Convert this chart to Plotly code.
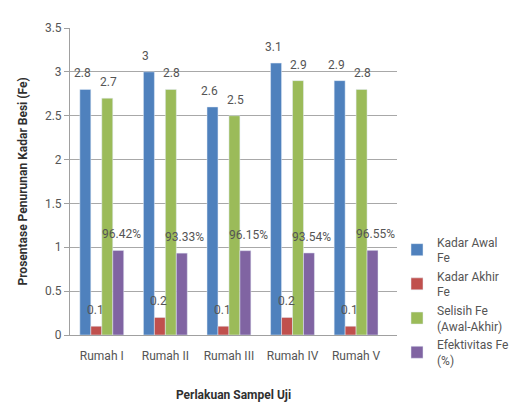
import plotly.graph_objects as go

categories = ["Rumah I", "Rumah II", "Rumah III", "Rumah IV", "Rumah V"]
kadar_awal = [2.8, 3.0, 2.6, 3.1, 2.9]
kadar_akhir = [0.1, 0.2, 0.1, 0.2, 0.1]
selisih = [2.7, 2.8, 2.5, 2.9, 2.8]
efektivitas = [0.9642, 0.9333, 0.9615, 0.9354, 0.9655]
efektivitas_labels = ["96.42%", "93.33%", "96.15%", "93.54%", "96.55%"]

series = [
    ("Kadar Awal<br>Fe", kadar_awal, "#4F81BD", [f"{v:g}" for v in kadar_awal]),
    ("Kadar Akhir<br>Fe", kadar_akhir, "#C0504D", [f"{v:g}" for v in kadar_akhir]),
    ("Selisih Fe<br>(Awal-Akhir)", selisih, "#9BBB59", [f"{v:g}" for v in selisih]),
    ("Efektivitas Fe<br>(%)", efektivitas, "#8064A2", efektivitas_labels),
]

FONT = "Roboto, sans-serif"
TXT = "#555555"

W, H = 518, 414
ML, MR, MT, MB = 62, 81, 20, 87
plot_w = W - ML - MR
bargap = 0.31
cat_px = plot_w / len(categories)
bar_px = cat_px * (1 - bargap) / len(series)

fig = go.Figure()
annotations = []
for i, (name, vals, color, labels) in enumerate(series):
    fig.add_trace(go.Bar(
        x=categories, y=vals, name=name, marker_color=color,
        legendgroup=name,
    ))
    offset = (i - (len(series) - 1) / 2) * bar_px
    for c, v, lab in zip(categories, vals, labels):
        annotations.append(dict(
            x=c, y=v, xref="x", yref="y", text=lab, showarrow=False,
            xshift=offset, yshift=16, yanchor="middle",
            font=dict(family=FONT, size=12, color=TXT),
        ))

fig.update_layout(
    width=W, height=H,
    margin=dict(l=ML, r=MR, t=MT, b=MB),
    paper_bgcolor="white", plot_bgcolor="white",
    barmode="group", bargap=bargap, bargroupgap=0,
    font=dict(family=FONT, size=12, color=TXT),
    annotations=annotations,
    showlegend=True,
    legend=dict(
        x=1.0, xanchor="left", y=0.35, yanchor="top",
        font=dict(family=FONT, size=12, color=TXT),
        tracegroupgap=22, itemwidth=30, traceorder="normal",
        bgcolor="rgba(0,0,0,0)",
    ),
    xaxis=dict(
        title=dict(text="<b>Perlakuan Sampel Uji</b>", font=dict(family=FONT, size=12, color="#303030"), standoff=28),
        showline=True, linecolor="#A0A0A0", ticks="outside", ticklen=10, tickcolor="rgba(0,0,0,0)",
        tickfont=dict(size=12, color=TXT),
    ),
    yaxis=dict(
        title=dict(text="<b>Prosentase Penurunan Kadar Besi (Fe)</b>", font=dict(family=FONT, size=12, color="#303030"), standoff=14),
        range=[0, 3.5], tickvals=[0, 0.5, 1, 1.5, 2, 2.5, 3, 3.5],
        ticktext=["0", "0.5", "1", "1.5", "2", "2.5", "3", "3.5"],
        showgrid=True, gridcolor="#A8A8A8", gridwidth=1,
        showline=True, linecolor="#A0A0A0", ticks="outside", ticklen=5, tickcolor="#A0A0A0",
        tickfont=dict(size=12, color=TXT), zeroline=False,
    ),
)

fig.write_html("out.html")
